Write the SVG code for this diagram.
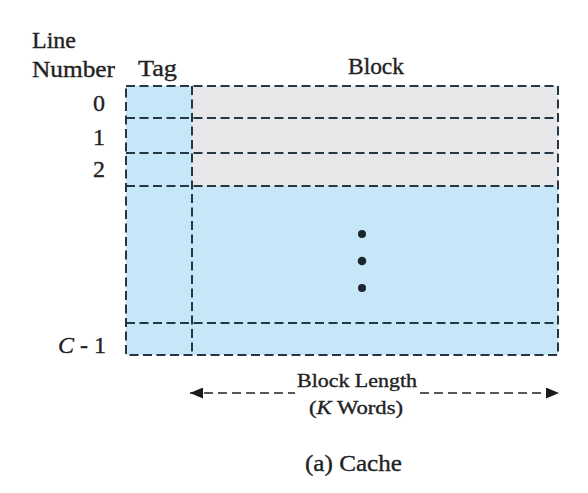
<svg xmlns="http://www.w3.org/2000/svg" width="588" height="493" viewBox="0 0 588 493">
<defs>
<style>
.lbl{font-family:"Liberation Serif","Times New Roman",serif;fill:#222222;stroke:#222222;stroke-width:0.35;}
.big{font-size:24px;}
.sm{font-size:18px;}
.dash{stroke:#243743;stroke-width:2;stroke-dasharray:9 4.5;fill:none;}
.arrowline{stroke:#222222;stroke-width:1.7;stroke-dasharray:9 5;fill:none;}
</style>
<marker id="ah" viewBox="0 0 13 11" refX="13" refY="5.5" markerWidth="13" markerHeight="11" markerUnits="userSpaceOnUse" orient="auto-start-reverse">
<path d="M0,0 L13,5.5 L0,11 Z" fill="#1a1a1a"/>
</marker>
</defs>
<rect width="588" height="493" fill="#ffffff"/>
<g id="headers">
<text class="lbl big" x="32" y="48">Line</text>
<text class="lbl big" x="32" y="77" textLength="83" lengthAdjust="spacingAndGlyphs">Number</text>
<text class="lbl big" x="138" y="76" textLength="39" lengthAdjust="spacingAndGlyphs">Tag</text>
<text class="lbl big" x="348" y="74" textLength="56" lengthAdjust="spacingAndGlyphs">Block</text>
</g>
<g id="line-numbers" class="lbl" text-anchor="end">
<text class="lbl big" x="105" y="111">0</text>
<text class="lbl big" x="105" y="145">1</text>
<text class="lbl big" x="105" y="177">2</text>
<text class="lbl big" x="106" y="353"><tspan font-style="italic">C</tspan> - 1</text>
</g>
<g id="cache">
<rect x="126" y="86" width="66" height="269" fill="#c6e7f7"/>
<rect x="192" y="86" width="366" height="100" fill="#e7e7e9"/>
<rect x="192" y="186" width="366" height="169" fill="#c6e7f7"/>
<rect class="dash" x="126" y="86" width="432" height="269"/>
<line class="dash" x1="126" y1="118" x2="558" y2="118"/>
<line class="dash" x1="126" y1="153" x2="558" y2="153"/>
<line class="dash" x1="126" y1="186" x2="558" y2="186"/>
<line class="dash" x1="126" y1="323" x2="558" y2="323"/>
<line class="dash" x1="192" y1="86" x2="192" y2="355"/>
<circle cx="362" cy="234" r="4" fill="#1c2630"/>
<circle cx="362" cy="261" r="4.3" fill="#1c2630"/>
<circle cx="362" cy="288" r="4" fill="#1c2630"/>
</g>
<g id="connectors">
<line class="arrowline" x1="190" y1="393" x2="295" y2="393" marker-start="url(#ah)"/>
<line class="arrowline" x1="420" y1="393" x2="559" y2="393" marker-end="url(#ah)"/>
</g>
<g id="block-length">
<text class="lbl sm" x="297" y="387" textLength="120" lengthAdjust="spacingAndGlyphs">Block Length</text>
<text class="lbl sm" x="309" y="414" textLength="94" lengthAdjust="spacingAndGlyphs">(<tspan font-style="italic">K</tspan> Words)</text>
</g>
<g id="caption">
<text class="lbl big" x="305" y="471" textLength="97" lengthAdjust="spacingAndGlyphs">(a) Cache</text>
</g>
</svg>
